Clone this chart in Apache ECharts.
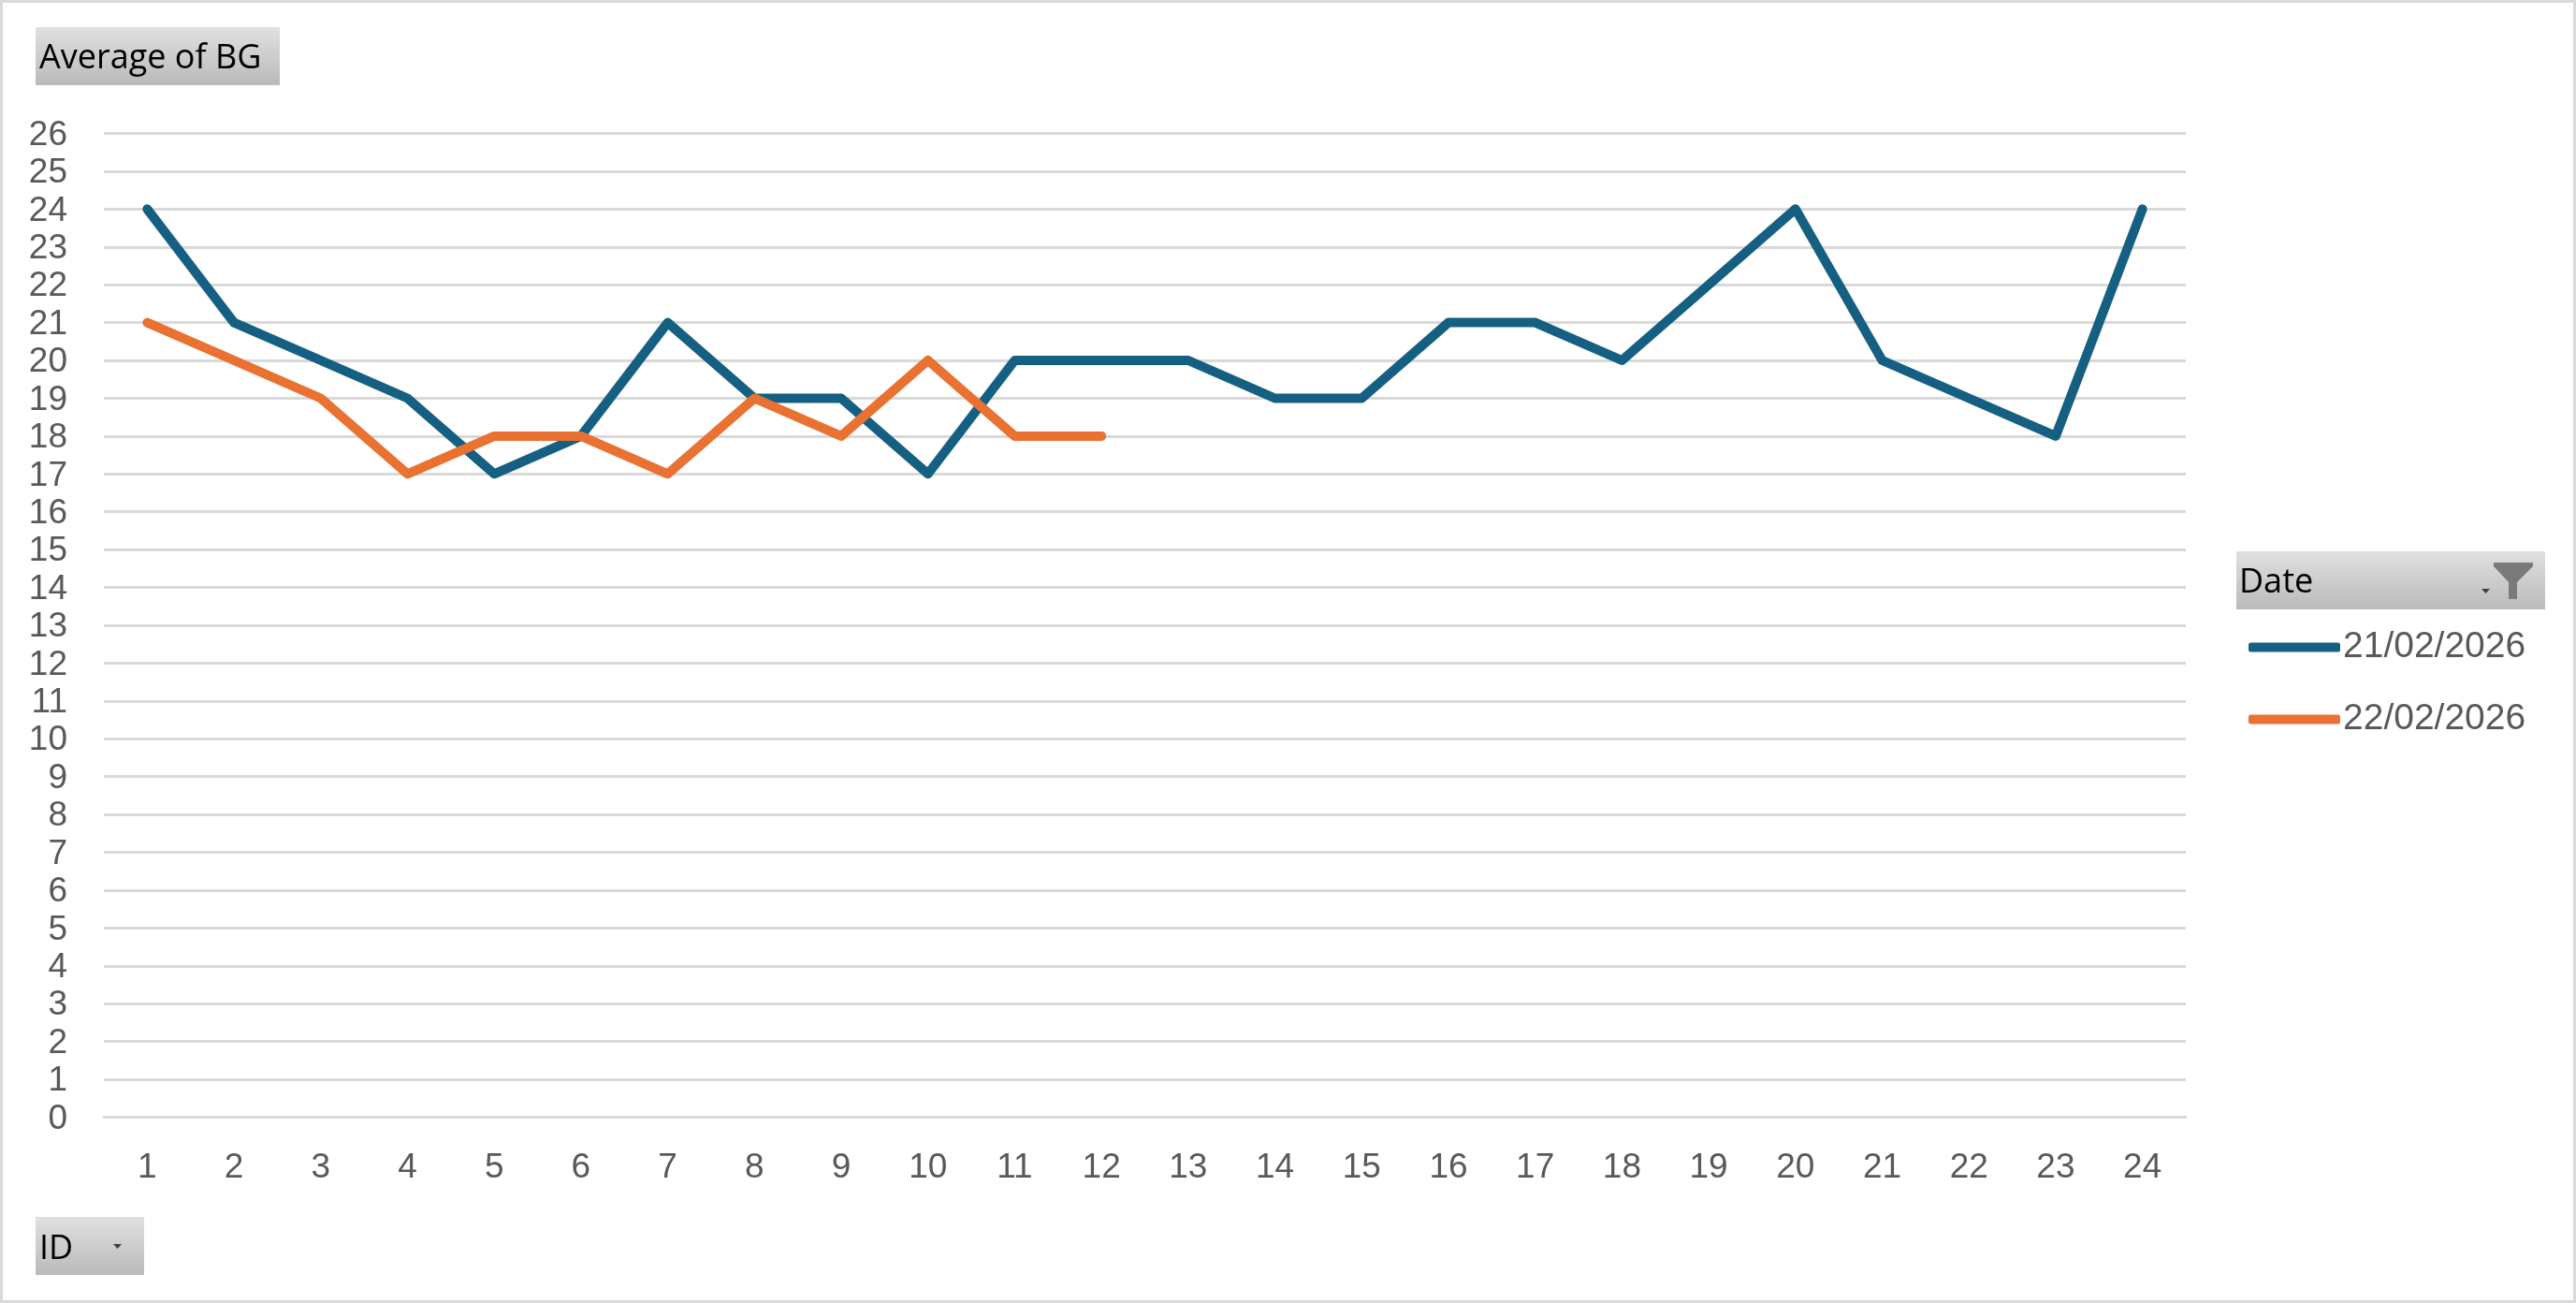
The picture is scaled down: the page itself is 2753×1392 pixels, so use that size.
<!DOCTYPE html>
<html><head><meta charset="utf-8">
<style>html,body{margin:0;padding:0;background:#fff}#c{width:2753px;height:1392px}</style>
<script src="https://cdn.jsdelivr.net/npm/echarts@6/dist/echarts.min.js"></script>
</head><body><div id="c"></div>
<script>
const categories=['1','2','3','4','5','6','7','8','9','10','11','12','13','14','15','16','17','18','19','20','21','22','23','24'];
const series1Name='21/02/2026';
const series2Name='22/02/2026';
const series1Values=[24,21,20,19,17,18,21,19,19,17,20,20,20,19,19,21,21,20,22,24,20,19,18,24];
const series2Values=[21,20,19,17,18,18,17,19,18,20,18,18];
const blue='#156082',orange='#E97132';
const grad={type:'linear',x:0,y:0,x2:0,y2:1,colorStops:[{offset:0,color:'#e0e0e0'},{offset:1,color:'#bababa'}]};
const btnFont='"Open Sans",sans-serif';
const axisFont='"Liberation Sans",Arial,sans-serif';
function btn(x,y,w,h){return {type:'rect',shape:{x,y,width:w,height:h},style:{fill:grad},silent:true};}
function label(x,y,t,size){return {type:'text',x,y,style:{text:t,fill:'#000',font:size+'px '+btnFont,textVerticalAlign:'middle',textBaseline:'middle'},silent:true};}
function tri(x,y){return {type:'polygon',shape:{points:[[x,y],[x+9,y],[x+4.5,y+5]]},style:{fill:'#404040'},silent:true};}
const chart=echarts.init(document.getElementById('c'),null,{renderer:'canvas'});
chart.setOption({
 animation:false,
 backgroundColor:'#fff',
 grid:{left:111,right:417,top:142.5,bottom:198.5,containLabel:false},
 xAxis:{type:'category',data:categories,boundaryGap:true,
  axisLine:{show:true,lineStyle:{color:'#d9d9d9',width:3}},axisTick:{show:false},
  axisLabel:{color:'#595959',fontFamily:axisFont,fontSize:37,margin:36,interval:0},splitLine:{show:false}},
 yAxis:{type:'value',min:0,max:26,interval:1,
  axisLine:{show:false},axisTick:{show:false},
  axisLabel:{margin:39,formatter:'{v|{value}}',rich:{v:{color:'#595959',fontFamily:axisFont,fontSize:37,padding:[4,0,0,0]}}},
  splitLine:{show:true,lineStyle:{color:'#d9d9d9',width:3}}},
 legend:{show:true,orient:'vertical',left:2403,top:672,itemWidth:98,itemHeight:10,itemGap:38,icon:'roundRect',
  textStyle:{color:'#595959',fontFamily:axisFont,fontSize:39,padding:[2,0,0,-2]},
  data:[series1Name,series2Name],padding:0},
 series:[
  {name:series1Name,type:'line',data:series1Values,showSymbol:false,symbol:'none',clip:false,itemStyle:{color:blue},lineStyle:{color:blue,width:10,cap:'round',join:'round'}},
  {name:series2Name,type:'line',data:series2Values,showSymbol:false,symbol:'none',clip:false,itemStyle:{color:orange},lineStyle:{color:orange,width:10,cap:'round',join:'round'}}
 ],
 graphic:{elements:[
  {type:'rect',shape:{x:1.5,y:1.5,width:2750,height:1389},style:{fill:'none',stroke:'#d9d9d9',lineWidth:3},silent:true},
  btn(38,29,261,62),label(42,63,'Average of BG',36),
  btn(2390,589,330,62),label(2393,623,'Date',36),tri(2652,629),
  {type:'polygon',shape:{points:[[2665,601],[2707,601],[2707,605],[2690,622],[2690,640],[2681,640],[2681,622],[2665,605]]},style:{fill:'#7a7a7a'},silent:true},
  btn(38,1300,116,62),label(42,1335,'ID',36),tri(121,1329)
 ]}
});
</script></body></html>
